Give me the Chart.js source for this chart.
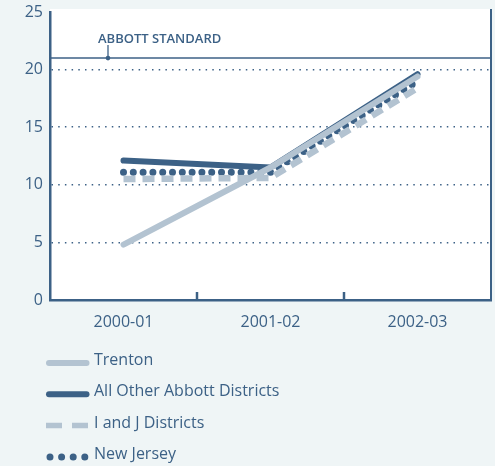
<!DOCTYPE html>
<html>
<head>
<meta charset="utf-8">
<script src="https://cdn.jsdelivr.net/npm/chart.js@4"></script>
<style>
  html, body { margin: 0; padding: 0; background: #eff5f6; }
  #wrap { width: 495px; height: 466px; }
</style>
</head>
<body>
<div id="wrap"><canvas id="chart" width="495" height="466"></canvas></div>
<script>
const categories = ["2000-01", "2001-02", "2002-03"];
const trenton = [4.8, 11.5, 19.4];
const allOtherAbbott = [12.1, 11.5, 19.6];
const iAndJ = [10.5, 10.6, 18.4];
const newJersey = [11.1, 11.1, 19.0];
const abbottStandard = 21;
const abbottLabel = "ABBOTT STANDARD";

const dark = "#3c6186";
const light = "#b3c3d1";
const font = "'Open Sans', 'Noto Sans', sans-serif";

// background, white plot area and the Abbott standard line
const frame = {
  id: "frame",
  beforeDraw(chart) {
    const { ctx, chartArea: a } = chart;
    ctx.save();
    ctx.fillStyle = "#eff5f6";
    ctx.fillRect(0, 0, chart.width, chart.height);
    ctx.fillStyle = "#ffffff";
    ctx.fillRect(a.left, a.top - 3, a.right - a.left, a.bottom - a.top + 3);
    ctx.restore();
  },
  beforeDatasetsDraw(chart) {
    const { ctx, chartArea: a, scales } = chart;
    const y = scales.y.getPixelForValue(abbottStandard);
    ctx.save();
    ctx.strokeStyle = dark;
    ctx.lineWidth = 1.5;
    ctx.beginPath();
    ctx.moveTo(a.left, y);
    ctx.lineTo(a.right, y);
    ctx.stroke();
    // label with a little pointer
    ctx.fillStyle = dark;
    ctx.font = "600 13px " + font;
    ctx.textBaseline = "alphabetic";
    ctx.fillText(abbottLabel, a.left + 48, y - 15);
    ctx.lineWidth = 1.3;
    ctx.beginPath();
    ctx.moveTo(a.left + 58, y - 13);
    ctx.lineTo(a.left + 58, y);
    ctx.stroke();
    ctx.beginPath();
    ctx.arc(a.left + 58, y, 2.3, 0, Math.PI * 2);
    ctx.fill();
    ctx.restore();
  },
  afterDraw(chart) {
    const { ctx, chartArea: a, scales } = chart;
    ctx.save();
    ctx.strokeStyle = dark;
    // right border
    ctx.lineWidth = 2;
    ctx.beginPath();
    ctx.moveTo(a.right, a.top - 3);
    ctx.lineTo(a.right, a.bottom + 1);
    ctx.stroke();
    // inner ticks between categories
    ctx.lineWidth = 2.5;
    for (let i = 0; i < categories.length - 1; i++) {
      const x = (scales.x.getPixelForValue(i) + scales.x.getPixelForValue(i + 1)) / 2;
      ctx.beginPath();
      ctx.moveTo(x, a.bottom);
      ctx.lineTo(x, a.bottom - 8);
      ctx.stroke();
    }
    ctx.restore();
  },
};

// legend below the chart, drawn with the datasets' own styles
const sampleLegend = {
  id: "sampleLegend",
  afterDraw(chart) {
    const { ctx } = chart;
    const x0 = 46, x1 = 89, top = 363, step = 31.3;
    ctx.save();
    chart.data.datasets.forEach((ds, i) => {
      const y = top + i * step;
      ctx.strokeStyle = ds.borderColor;
      ctx.lineWidth = ds.legendWidth || ds.borderWidth;
      ctx.lineCap = ds.borderCapStyle || "butt";
      ctx.setLineDash(ds.legendDash || []);
      ctx.beginPath();
      ctx.moveTo(x0 + ds.legendInset, y);
      ctx.lineTo(x1 - ds.legendInset + 0.5, y);
      ctx.stroke();
      ctx.setLineDash([]);
      ctx.fillStyle = dark;
      ctx.font = "16px " + font;
      ctx.textBaseline = "alphabetic";
      ctx.fillText(ds.label, 94, y + 2);
    });
    ctx.restore();
  },
};

new Chart(document.getElementById("chart"), {
  type: "line",
  data: {
    labels: categories,
    datasets: [
      {
        label: "Trenton",
        data: trenton,
        borderColor: light,
        borderWidth: 6,
        borderCapStyle: "round",
        legendInset: 3,
      },
      {
        label: "All Other Abbott Districts",
        data: allOtherAbbott,
        borderColor: dark,
        borderWidth: 6,
        borderCapStyle: "round",
        legendInset: 3,
      },
      {
        label: "I and J Districts",
        data: iAndJ,
        borderColor: light,
        borderWidth: 6.5,
        borderDash: [12, 7],
        legendDash: [16, 10],
        legendWidth: 5.5,
        legendInset: 0,
      },
      {
        label: "New Jersey",
        data: newJersey,
        borderColor: dark,
        borderWidth: 7,
        borderCapStyle: "round",
        borderDash: [0, 9.8],
        legendDash: [0, 11.6],
        legendInset: 4,
      },
    ],
  },
  options: {
    responsive: false,
    animation: false,
    events: [],
    layout: { padding: { top: 12, right: 4, left: 0, bottom: 0 } },
    elements: { point: { radius: 0 }, line: { tension: 0 } },
    plugins: { legend: { display: false }, tooltip: { enabled: false } },
    scales: {
      x: {
        offset: true,
        grid: { display: false },
        border: { display: true, color: dark, width: 2.5 },
        ticks: { color: dark, font: { family: font, size: 16 }, padding: 5 },
        afterFit(scale) { scale.height = 166; },
      },
      y: {
        min: 0,
        max: 25,
        ticks: { stepSize: 5, color: dark, font: { family: font, size: 16 }, padding: 7 },
        grid: {
          drawTicks: false,
          lineWidth: 1.5,
          color: (c) => (c.tick && (c.tick.value === 0 || c.tick.value === 25)) ? "rgba(0,0,0,0)" : dark,
        },
        border: { display: true, color: dark, width: 2.5, dash: [1.5, 5.2] },
        afterFit(scale) {
          scale.width = 50;
          scale.paddingTop = 0;
          scale.paddingBottom = 0;
        },
      },
    },
  },
  plugins: [frame, sampleLegend],
});
</script>
</body>
</html>
